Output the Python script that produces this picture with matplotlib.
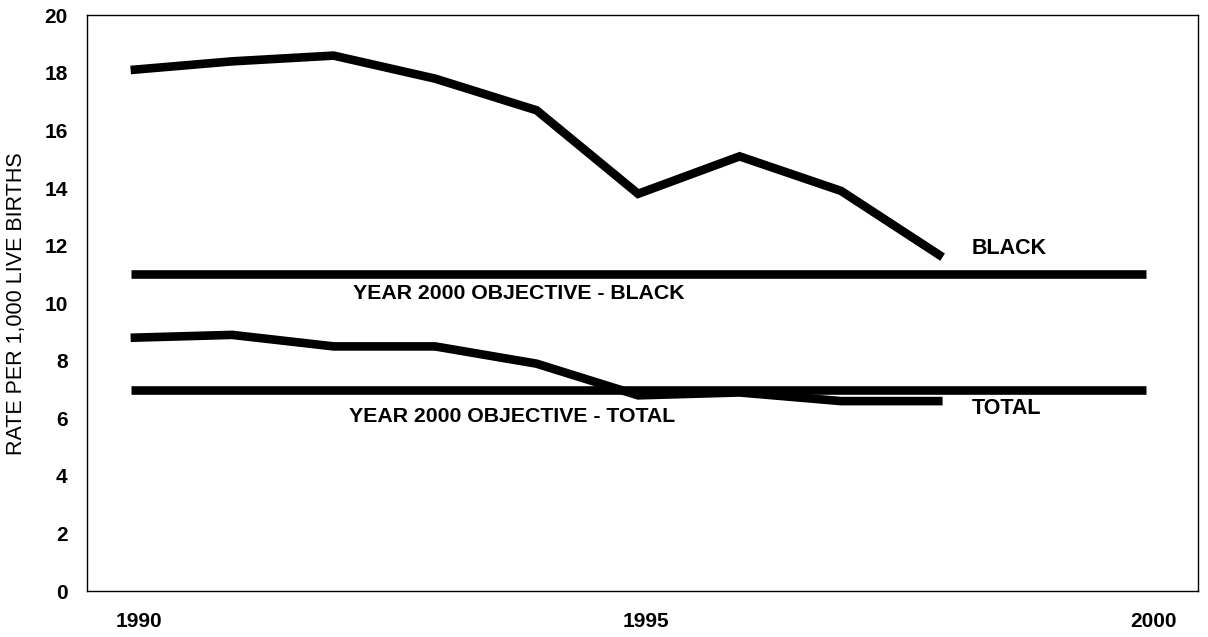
import matplotlib
matplotlib.use("Agg")
import matplotlib.pyplot as plt
from matplotlib.transforms import ScaledTranslation

plt.rcParams['font.family'] = ['Liberation Sans', 'DejaVu Sans']

years = [1990, 1991, 1992, 1993, 1994, 1995, 1996, 1997, 1998]
black_rate = [18.1, 18.4, 18.6, 17.8, 16.7, 13.8, 15.1, 13.9, 11.6]
total_rate = [8.8, 8.9, 8.5, 8.5, 7.9, 6.8, 6.9, 6.6, 6.6]

obj_years = [1990, 2000]
obj_black = [11.0, 11.0]
obj_total = [7.0, 7.0]

xtick_years = [1990, 1995, 2000]
ytick_vals = [0, 2, 4, 6, 8, 10, 12, 14, 16, 18, 20]

fig = plt.figure(figsize=(12.08, 6.37), dpi=100)
ax = fig.add_axes([0.072, 0.072, 0.920, 0.904])

lw = 6.2
ax.plot(years, black_rate, color='black', lw=lw, solid_capstyle='butt', solid_joinstyle='miter')
ax.plot(years, total_rate, color='black', lw=lw, solid_capstyle='butt', solid_joinstyle='miter')
ax.plot(obj_years, obj_black, color='black', lw=lw, solid_capstyle='butt')
ax.plot(obj_years, obj_total, color='black', lw=lw, solid_capstyle='butt')

# labels on the chart
ax.text(1998.29, 11.9, 'BLACK', fontsize=15.5, fontweight='bold', va='center', ha='left')
ax.text(1998.29, 6.35, 'TOTAL', fontsize=15.5, fontweight='bold', va='center', ha='left')
ax.text(1993.82, 10.35, 'YEAR 2000 OBJECTIVE - BLACK', fontsize=15.3, fontweight='bold',
        va='center', ha='center')
ax.text(1993.76, 6.08, 'YEAR 2000 OBJECTIVE - TOTAL', fontsize=15.3, fontweight='bold',
        va='center', ha='center')

ax.set_xlim(1989.57, 2000.52)
ax.set_ylim(0, 20)
ax.set_xticks(xtick_years)
ax.set_yticks(ytick_vals)
ax.tick_params(axis='both', length=0, labelsize=15)
ax.tick_params(axis='x', pad=15)
ax.tick_params(axis='y', pad=14)
for lab in ax.get_xticklabels() + ax.get_yticklabels():
    lab.set_fontweight('bold')
for lab in ax.get_xticklabels():
    lab.set_transform(lab.get_transform() + ScaledTranslation(0.08, 0, fig.dpi_scale_trans))

for sp in ax.spines.values():
    sp.set_linewidth(1.0)
    sp.set_color('black')

ax.set_ylabel('RATE PER 1,000 LIVE BIRTHS', fontsize=15.5, labelpad=12)

fig.savefig('out.png', dpi=100)
